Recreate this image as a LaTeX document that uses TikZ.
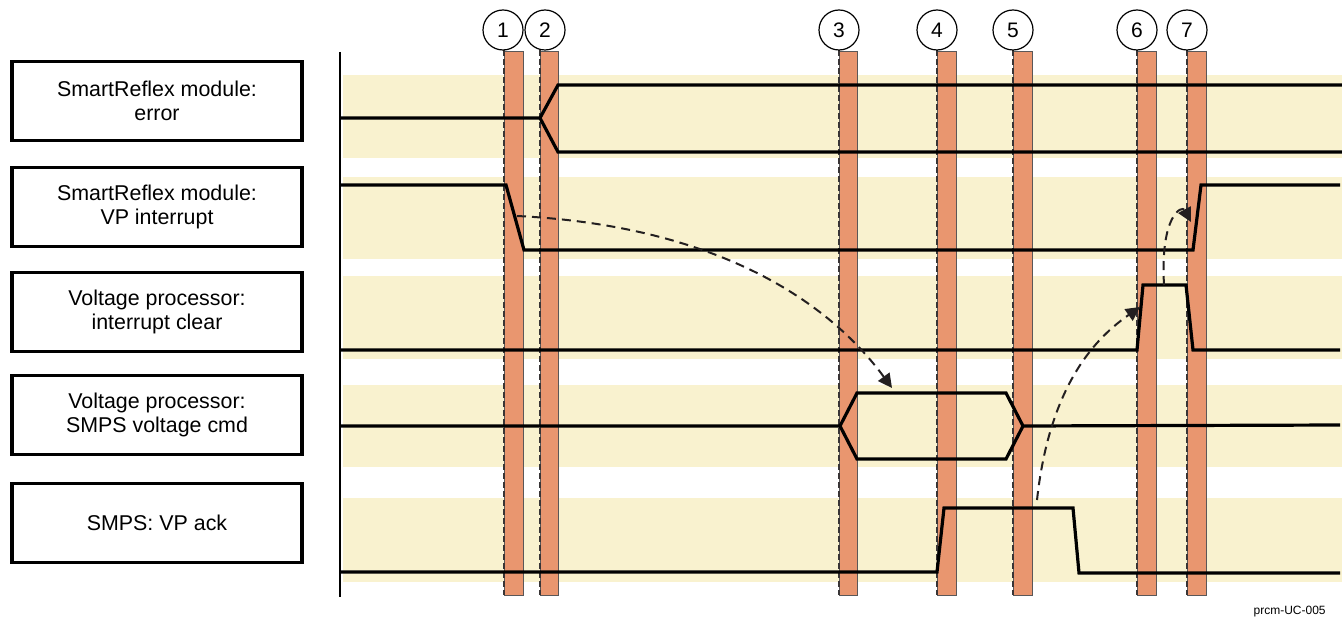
\documentclass[tikz,border=0pt]{standalone}
\usepackage{fontspec}
\setmainfont{Liberation Sans}
\usetikzlibrary{arrows.meta,positioning}
\definecolor{BandYellow}{HTML}{F9F2CF}
\definecolor{BarOrange}{HTML}{E9966F}
\definecolor{TipDark}{HTML}{231F20}

\tikzset{
  lanebox/.style={draw, line width=1.6pt, minimum width=145pt, minimum height=39.5pt,
    inner sep=0pt, align=center, font=\fontsize{10.7}{11.8}\selectfont},
  sig/.style={line width=1.6pt, line join=miter},
  stamp/.style={circle, draw, line width=0.6pt, minimum size=20pt, inner sep=0pt,
    fill=white, font=\fontsize{10.5}{12}\selectfont},
  guide/.style={dash pattern=on 3pt off 1.5pt, line width=1pt, TipDark!90},
  cause/.style={-{Triangle[length=7pt,width=7pt]}, dash pattern=on 4.5pt off 3pt,
    line width=1pt, TipDark},
}

\begin{document}
\begin{tikzpicture}[x=0.5pt, y=-0.5pt]
\useasboundingbox (0,0) rectangle (1342,620);

% Lane bands
\foreach \t/\b in {75/158, 177/259, 276/359, 385/467, 498/582} {
  \fill[BandYellow] (343,\t) rectangle (1342,\b);
}

% Lane labels
\node[lanebox] (err) at (157,101) {SmartReflex module:\\error};
\node[lanebox] (irq) at (157,207) {SmartReflex module:\\VP interrupt};
\node[lanebox] (clr) at (157,312) {Voltage processor:\\interrupt clear};
\node[lanebox] (cmd) at (157,415) {Voltage processor:\\SMPS voltage cmd};
\node[lanebox] (ack) at (157,523) {SMPS: VP ack};

% Event bars
\foreach \x/\w in {504/19, 540/18, 839/18, 937/19, 1013/19, 1137/19, 1187/19} {
  \filldraw[fill=BarOrange, draw=TipDark!75, line width=0.5pt] (\x,52) rectangle (\x+\w,595);
  \draw[guide] (\x,50) -- (\x,595);
}

% Event numbers
\foreach \n/\x in {1/503, 2/545, 3/839, 4/937, 5/1013, 6/1137, 7/1187} {
  \node[stamp] (m\n) at (\x,30) {\n};
}

% Time axis
\draw[line width=0.8pt] (340,52) -- (340,597);

% error
\draw[sig] (340,118) -- (540,118) -- (558,85) -- (1342,85);
\draw[sig] (540,118) -- (558,152) -- (1342,152);
% VP interrupt
\draw[sig] (340,185) -- (506,185) -- (524,250) -- (1193,250) -- (1201,185) -- (1340,185);
% interrupt clear
\draw[sig] (340,350) -- (1137,350) -- (1143,285) -- (1186,285) -- (1193,350) -- (1340,350);
% SMPS voltage cmd
\draw[sig] (340,426) -- (840,426) -- (857,393) -- (1006,393) -- (1023,426) -- (1340,425);
\draw[sig] (840,426) -- (857,459) -- (1006,459) -- (1023,426);
% VP ack
\draw[sig] (340,572) -- (937,572) -- (944,508) -- (1073,508) -- (1079,573) -- (1340,573);

% Causes
\coordinate (irqFall) at (517,216);
\coordinate (cmdHit) at (892,388);
\coordinate (ackTop) at (1037,500);
\coordinate (clrRise) at (1140,307);
\coordinate (clrTop) at (1164,285);
\coordinate (irqRise) at (1191,222);
\draw[cause] (irqFall) .. controls (700,225) and (820,290) .. (cmdHit);
\draw[cause] (ackTop) .. controls (1050,380) and (1100,335) .. (clrRise);
\draw[cause] (clrTop) .. controls (1160,215) and (1182,205) .. (irqRise);

\node[font=\fontsize{6}{7}\selectfont, anchor=east, inner sep=0pt] (tag) at (1326,612) {prcm-UC-005};
\end{tikzpicture}
\end{document}
